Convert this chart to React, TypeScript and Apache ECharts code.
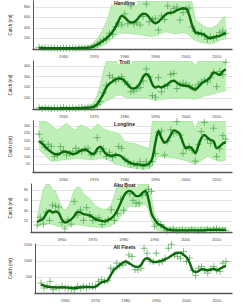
import React, { useEffect, useRef } from "react";
import * as echarts from "echarts";

const years: number[] = [];
for (let y = 1952; y <= 2013; y++) years.push(y);

const panelTitles = ["Handline", "Troll", "Longline", "Aku Boat", "All Fleets"];
const yMax = [914, 446, 331, 91, 1540];
const yInterval = [200, 100, 50, 20, 500];
const xTicks = [1960, 1970, 1980, 1990, 2000, 2010];

// Handline
const handLine = [22, 20, 18, 17, 16, 15, 15, 15, 15, 15, 15, 15, 16, 18, 20, 22, 25, 30,
  55, 85, 120, 160, 205, 260, 330, 420, 540, 630, 600, 540, 505, 510, 560, 630, 670, 660, 600, 530,
  490, 520, 580, 640, 680, 690, 700, 740, 760, 775, 770, 650, 450, 320, 300, 290, 270, 220, 210, 220,
  240, 250, 280, 300];
const handObs = [30, 25, 20, 18, 15, 22, 15, 12, 18, 14, 16, 20, 14, 22, 18, 25, 20, 35,
  60, 75, 140, 170, 190, 300, 280, 425, 500, 457, 667, 480, 820, 476, 500, 457, 620, 857, 520, 560,
  584, 362, 630, 560, 820, 700, 775, 800, 552, 692, 755, 780, 420, 330, 290, 300, 250, 184, 235, 203,
  230, 311, 343, 300];
const handUpper = [45, 40, 38, 35, 35, 35, 35, 35, 35, 35, 35, 35, 38, 40, 45, 50, 60, 75,
  130, 200, 290, 400, 530, 700, 900, 1000, 1000, 1000, 1000, 1000, 1000, 1000, 1000, 1000, 1000, 1000, 1000, 1000,
  1000, 1000, 1000, 1000, 1000, 1000, 1000, 1000, 1000, 1000, 1000, 1000, 900, 560, 520, 470, 430, 410, 400, 420,
  450, 520, 600, 630];
const handLower = [5, 5, 3, 3, 2, 2, 2, 2, 2, 2, 2, 2, 2, 3, 3, 4, 5, 8,
  10, 20, 40, 70, 100, 150, 200, 250, 290, 300, 300, 300, 290, 280, 280, 270, 260, 250, 240, 240,
  250, 270, 300, 320, 320, 300, 290, 290, 300, 310, 300, 260, 200, 160, 140, 120, 110, 100, 100, 110,
  130, 160, 180, 190];

// Troll
const trollLine = [8, 8, 7, 7, 6, 6, 6, 6, 7, 7, 7, 7, 8, 8, 9, 10, 12, 15,
  22, 45, 90, 140, 200, 235, 255, 275, 285, 280, 260, 225, 195, 190, 205, 240, 300, 325, 300, 230,
  200, 210, 200, 215, 230, 255, 262, 245, 225, 218, 215, 210, 190, 180, 205, 235, 255, 270, 300, 340,
  330, 315, 350, 370];
const trollObs = [12, 5, 10, 8, 4, 12, 6, 9, 15, 5, 8, 12, 6, 10, 14, 8, 18, 12,
  20, 40, 70, 150, 220, 310, 290, 260, 280, 300, 250, 230, 160, 167, 190, 200, 260, 372, 300, 124,
  109, 291, 160, 210, 217, 322, 330, 190, 230, 240, 230, 215, 200, 190, 230, 250, 270, 250, 290, 341,
  208, 350, 320, 434];
const trollUpper = [20, 20, 18, 18, 16, 16, 16, 16, 18, 18, 18, 18, 20, 20, 22, 25, 30, 40,
  70, 130, 230, 350, 450, 500, 500, 500, 500, 500, 500, 500, 500, 500, 500, 500, 500, 500, 500, 500,
  500, 500, 500, 500, 500, 500, 500, 500, 500, 500, 500, 480, 470, 400, 480, 500, 500, 500, 500, 500,
  500, 500, 500, 500];
const trollLower = [1, 1, 1, 1, 1, 1, 1, 1, 1, 1, 1, 1, 1, 1, 1, 2, 2, 3,
  5, 10, 30, 55, 75, 85, 100, 120, 130, 125, 110, 105, 100, 100, 100, 100, 105, 100, 95, 85,
  80, 85, 90, 90, 95, 100, 100, 100, 100, 105, 105, 100, 95, 90, 100, 110, 120, 125, 130, 140,
  150, 155, 165, 170];

// Longline
const longLine = [200, 185, 165, 145, 130, 118, 115, 122, 132, 130, 125, 115, 120, 132, 142, 145, 136, 120,
  118, 150, 165, 140, 115, 108, 105, 112, 110, 100, 80, 68, 58, 52, 50, 48, 45, 48, 55, 90,
  190, 265, 220, 190, 205, 240, 270, 262, 245, 190, 155, 162, 150, 122, 170, 220, 240, 222, 208, 200,
  155, 165, 185, 193];
const longObs = [245, 200, 160, 180, 165, 100, 110, 165, 140, 110, 120, 130, 154, 140, 132, 150, 154, 110,
  120, 223, 132, 150, 100, 128, 95, 110, 165, 154, 85, 67, 50, 55, 40, 67, 35, 67, 40, 67,
  120, 258, 266, 110, 200, 273, 250, 327, 240, 121, 150, 165, 140, 71, 180, 262, 322, 210, 186, 284,
  100, 150, 236, 214];
const longUpper = [380, 360, 340, 320, 305, 285, 273, 285, 305, 316, 300, 280, 275, 300, 305, 294, 285, 273,
  290, 310, 300, 280, 272, 265, 262, 256, 250, 230, 195, 192, 188, 186, 180, 172, 165, 160, 154, 400,
  400, 400, 400, 400, 400, 400, 400, 400, 400, 400, 400, 400, 400, 273, 400, 400, 400, 400, 400, 400,
  400, 400, 400, 400];
const longLower = [145, 125, 110, 85, 68, 70, 73, 76, 78, 80, 82, 85, 87, 89, 86, 82, 79, 78,
  80, 85, 88, 89, 82, 72, 62, 52, 45, 40, 35, 30, 27, 24, 22, 20, 18, 17, 25, 45,
  75, 100, 98, 96, 94, 93, 90, 86, 82, 78, 72, 64, 56, 50, 62, 75, 88, 100, 92, 82,
  74, 67, 72, 78];

// Aku Boat
const akuLine = [19, 22, 25, 35, 41, 37, 39, 36, 24, 18, 20, 24, 30, 38, 37, 34, 33, 31,
  28, 24, 22, 21, 20, 23, 26, 32, 42, 55, 68, 76, 78, 74, 68, 68, 74, 78, 62, 35,
  24, 16, 13, 9, 5, 4, 3, 3, 3, 3, 3, 3, 3, 3, 3, 3, 3, 4, 4, 4,
  4, 4, 4, 4];
const akuObs = [13, 28, 15, 38, 22, 51, 49, 47, 18, 6, 23, 15, 58, 32, 42, 22, 46, 33,
  22, 25, 27, 14, 20, 23, 42, 22, 35, 62, 41, 89, 72, 60, 55, 55, 70, 74, 81, 77,
  11, 20, 14, 8, 2, 4, 6, 2, 3, 4, 2, 3, 5, 3, 2, 4, 3, 5, 3, 4,
  6, 3, 4, 3];
const akuUpper = [28, 55, 80, 95, 92, 80, 78, 62, 46, 42, 48, 62, 80, 85, 84, 72, 68, 64,
  56, 50, 46, 44, 42, 46, 53, 70, 95, 100, 100, 100, 100, 100, 100, 100, 100, 100, 100, 65,
  33, 17, 11, 9, 9, 9, 9, 9, 9, 9, 9, 9, 9, 9, 9, 9, 9, 9, 9, 9,
  9, 9, 9, 9];
const akuLower = [11, 12, 14, 15, 15, 14, 12, 10, 9, 9, 10, 12, 14, 14, 13, 12, 11, 10,
  10, 9, 9, 9, 9, 10, 12, 16, 22, 30, 36, 44, 49, 48, 47, 48, 51, 52, 42, 22,
  8, 3, 1, 1, 1, 1, 1, 1, 1, 1, 1, 1, 1, 1, 1, 1, 1, 1, 1, 1,
  1, 1, 1, 1];

// All Fleets
const allLine = [260, 230, 205, 190, 180, 178, 176, 178, 176, 170, 160, 158, 165, 180, 188, 187, 186, 180,
  200, 270, 330, 360, 400, 560, 720, 800, 880, 950, 990, 940, 880, 830, 820, 880, 1040, 1090, 1040, 975,
  975, 1000, 1020, 1060, 1110, 1170, 1230, 1265, 1260, 1200, 1120, 960, 720, 660, 690, 750, 740, 710, 730, 760,
  720, 760, 810, 860];
const allObs = [313, 156, 220, 365, 104, 170, 150, 208, 160, 156, 130, 104, 208, 150, 208, 170, 208, 208,
  200, 365, 417, 380, 385, 781, 729, 938, 860, 885, 950, 1198, 1146, 729, 729, 781, 1406, 1250, 1000, 990,
  1250, 960, 990, 1094, 1406, 1531, 1200, 1146, 1094, 1302, 990, 1100, 700, 552, 781, 833, 700, 625, 760, 833,
  700, 677, 938, 990];

const lines = [handLine, trollLine, longLine, akuLine, allLine];
const obs = [handObs, trollObs, longObs, akuObs, allObs];
const uppers: (number[] | null)[] = [handUpper, trollUpper, longUpper, akuUpper, null];
const lowers: (number[] | null)[] = [handLower, trollLower, longLower, akuLower, null];

const gridTops = [1, 61, 121, 184, 244];
const gridHeights = [48, 48, 51, 48, 49];
const titleTops = [0, 59, 121, 182, 244];

const CROSS = "path://M5 0 L5 10 M0 5 L10 5";

export default function App() {
  const ref = useRef<HTMLDivElement>(null);
  useEffect(() => {
    if (!ref.current) return;
    const chart = echarts.init(ref.current, null, { renderer: "svg" });
    const font = "Liberation Sans";
    const grids: any[] = [];
    const xAxes: any[] = [];
    const yAxes: any[] = [];
    const titles: any[] = [];
    const series: any[] = [];
    const zip = (arr: number[]) => years.map((y, i) => [y, arr[i]]);

    for (let p = 0; p < 5; p++) {
      grids.push({ left: 16, width: 216, top: gridTops[p], height: gridHeights[p] });
      xAxes.push({
        gridIndex: p,
        type: "value",
        min: 1950,
        max: 2015,
        interval: 10,
        axisLine: { show: true, lineStyle: { color: "#555", width: 1.3 } },
        axisTick: { show: false },
        splitLine: { show: false },
        axisLabel: {
          fontSize: 4,
          color: "#444",
          fontFamily: font,
          margin: 5,
          showMinLabel: false,
          showMaxLabel: false,
          formatter: (v: number) => (xTicks.indexOf(v) >= 0 ? String(v) : ""),
        },
      });
      yAxes.push({
        gridIndex: p,
        type: "value",
        min: 0,
        max: yMax[p],
        interval: yInterval[p],
        name: "Catch (mt)",
        nameLocation: "middle",
        nameGap: 11,
        nameRotate: 90,
        nameTextStyle: { fontSize: 4.5, color: "#333", fontFamily: font },
        axisLine: { show: true, lineStyle: { color: "#555", width: 1 } },
        axisTick: { show: false },
        axisLabel: {
          fontSize: 3.6,
          color: "#444",
          fontFamily: font,
          margin: 3,
          showMinLabel: false,
          showMaxLabel: false,
          formatter: (v: number) => String(v),
        },
        splitLine: {
          show: true,
          showMinLine: false,
          showMaxLine: false,
          lineStyle: { color: "#dddddd", width: 0.8 },
        },
      });
      titles.push({
        text: panelTitles[p],
        left: "center",
        top: titleTops[p],
        padding: [0, 2],
        backgroundColor: "rgba(255,255,255,0.75)",
        textStyle: { fontSize: 5, fontWeight: "bold", color: "#222", fontFamily: font },
      });

      const up = uppers[p];
      const lo = lowers[p];
      if (up && lo) {
        const bandData = years.map((y, i) => [y, lo[i], up[i]]);
        series.push({
          type: "custom",
          xAxisIndex: p,
          yAxisIndex: p,
          data: bandData,
          clip: true,
          silent: true,
          encode: { x: 0, y: [1, 2] },
          renderItem: (params: any, api: any) => {
            if (params.dataIndexInside !== 0) return null;
            const n = bandData.length;
            const top: number[][] = [];
            const bottom: number[][] = [];
            for (let i = 0; i < n; i++) {
              const x = api.value(0, i);
              top.push(api.coord([x, api.value(2, i)]));
              bottom.push(api.coord([x, api.value(1, i)]));
            }
            const cs = params.coordSys;
            const clipPts = (pts: number[][]) =>
              pts.map((pt) => [
                Math.max(cs.x, Math.min(cs.x + cs.width, pt[0])),
                Math.max(cs.y, Math.min(cs.y + cs.height, pt[1])),
              ]);
            const t = clipPts(top);
            const b = clipPts(bottom);
            return {
              type: "group",
              children: [
                {
                  type: "polygon",
                  shape: { points: t.concat(b.slice().reverse()) },
                  style: { fill: "#bdefb6", stroke: "none" },
                },
                {
                  type: "polyline",
                  shape: { points: t },
                  style: { fill: "none", stroke: "#7ccf74", lineWidth: 0.7, lineDash: [1, 1] },
                },
                {
                  type: "polyline",
                  shape: { points: b },
                  style: { fill: "none", stroke: "#7ccf74", lineWidth: 0.7, lineDash: [1, 1] },
                },
              ],
            };
          },
        });
      }
      series.push({
        type: "scatter",
        xAxisIndex: p,
        yAxisIndex: p,
        data: zip(obs[p]),
        symbol: CROSS,
        symbolSize: 7,
        silent: true,
        itemStyle: { color: "rgba(0,0,0,0)", borderColor: "#3f9a3f", borderWidth: 0.8 },
      });
      series.push({
        type: "line",
        xAxisIndex: p,
        yAxisIndex: p,
        data: zip(lines[p]),
        symbol: "none",
        smooth: 0.35,
        silent: true,
        lineStyle: { color: "#0b6b0b", width: 2.4 },
      });
    }

    chart.setOption({
      animation: false,
      backgroundColor: "#ffffff",
      title: titles,
      grid: grids,
      xAxis: xAxes,
      yAxis: yAxes,
      series,
    });
    return () => chart.dispose();
  }, []);
  return (
    <div
      ref={ref}
      style={{ position: "absolute", left: 0, top: 0, width: 249, height: 305 }}
    />
  );
}
